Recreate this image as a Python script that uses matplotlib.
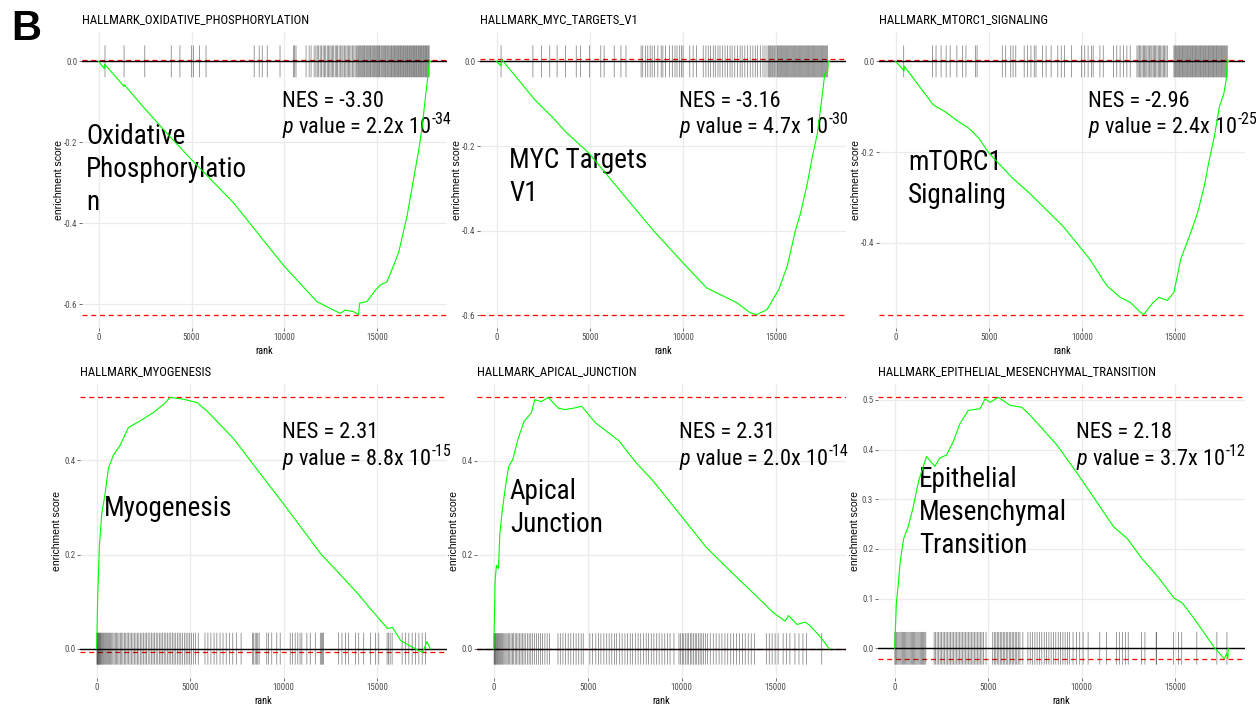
import matplotlib
matplotlib.use("Agg")
import matplotlib.pyplot as plt
from matplotlib import font_manager as fm
from matplotlib.ticker import MultipleLocator, FuncFormatter, FixedLocator
from matplotlib.transforms import offset_copy
import numpy as np

# ---------------------------------------------------------------- data
N_GENES = 17850

titles = ["HALLMARK_OXIDATIVE_PHOSPHORYLATION", "HALLMARK_MYC_TARGETS_V1",
          "HALLMARK_MTORC1_SIGNALING", "HALLMARK_MYOGENESIS",
          "HALLMARK_APICAL_JUNCTION", "HALLMARK_EPITHELIAL_MESENCHYMAL_TRANSITION"]
names = [["Oxidative", "Phosphorylatio", "n"], ["MYC Targets", "V1"],
         ["mTORC1", "Signaling"], ["Myogenesis"], ["Apical", "Junction"],
         ["Epithelial", "Mesenchymal", "Transition"]]
nes_values = ["-3.30", "-3.16", "-2.96", "2.31", "2.31", "2.18"]
p_mantissa = ["2.2", "4.7", "2.4", "8.8", "2.0", "3.7"]
p_exponent = ["-34", "-30", "-25", "-15", "-14", "-12"]

oxphos_rank = [0, 308, 330, 1370, 1388, 2468, 3818, 4988, 7236, 9936, 11740, 12636,
               12996, 13266, 13716, 13986, 14040, 14436, 14886, 15156, 15516, 15876,
               16146, 16596, 16956, 17226, 17406, 17586, 17712, 17800, 17850]
oxphos_es = [0.0, -0.018, -0.007, -0.062, -0.058, -0.116, -0.185, -0.242, -0.348, -0.503,
             -0.593, -0.614, -0.622, -0.614, -0.618, -0.625, -0.597, -0.593, -0.565, -0.552,
             -0.544, -0.503, -0.471, -0.381, -0.287, -0.218, -0.161, -0.087, -0.038, 0.003, 0.0]
oxphos_hits = [345, 1370, 2485, 3908, 4376, 4988, 5098, 5436, 5780, 8370, 8640, 8802, 9072,
               9760, 10480, 10550, 10620, 11160, 11325, 11430, 11595, 11690, 11760, 11840,
               11920, 11990, 12080, 12150, 12220, 12300, 12370, 12440, 12510, 12590, 12650,
               12730, 12800, 12860, 12940, 13010, 13090, 13150, 13230, 13300, 13370, 13440,
               13510, 13580, 13660, 13730, 13800, 13880, 13940, 13990, 14040, 14090, 14140,
               14200, 14250, 14300, 14340, 14400, 14450, 14500, 14550, 14600, 14640, 14700,
               14750, 14800, 14840, 14900, 14950, 15000, 15050, 15100, 15140, 15200, 15250,
               15300, 15350, 15400, 15440, 15500, 15550, 15600, 15640, 15700, 15750, 15790,
               15840, 15890, 15930, 15980, 16030, 16070, 16120, 16160, 16210, 16250, 16300,
               16340, 16390, 16430, 16480, 16520, 16570, 16610, 16650, 16700, 16740, 16790,
               16830, 16870, 16920, 16960, 17000, 17050, 17090, 17130, 17180, 17220, 17260,
               17310, 17350, 17390, 17440, 17480, 17520, 17570, 17610, 17650, 17700, 17740, 17780]

myc_rank = [0, 236, 260, 2074, 2974, 3697, 4956, 6578, 8378, 10000, 11264, 12886, 13605,
            13966, 14507, 15134, 15588, 16037, 16307, 16668, 16938, 17209, 17479, 17604,
            17760, 17790, 17850]
myc_es = [0.0, -0.011, 0.005, -0.092, -0.131, -0.166, -0.217, -0.303, -0.398, -0.476, -0.535,
          -0.570, -0.594, -0.598, -0.586, -0.539, -0.484, -0.398, -0.358, -0.288, -0.225,
          -0.170, -0.076, -0.029, -0.024, 0.0, 0.0]
myc_hits = [237, 1946, 2398, 2850, 3243, 3697, 4270, 4508, 4973, 5588, 5767, 6307, 6669, 6940,
            7749, 7839, 7983, 8109, 8235, 8343, 8469, 8649, 8829, 8919, 9064, 9280, 9424, 9568,
            9676, 9820, 9910, 10000, 10361, 10541, 10721, 11082, 11226, 11352, 11478, 11622,
            11730, 11875, 11983, 12127, 12253, 12379, 12523, 12631, 12775, 12919, 13063, 13171,
            13315, 13459, 13604, 13748, 13874, 14000, 14144, 14288, 14396, 14504, 14590, 14640,
            14700, 14760, 14810, 14870, 14920, 14980, 15048, 15090, 15140, 15190, 15240, 15290,
            15340, 15390, 15440, 15490, 15540, 15590, 15640, 15690, 15740, 15790, 15840, 15890,
            15940, 15990, 16040, 16090, 16140, 16190, 16240, 16290, 16340, 16390, 16440, 16490,
            16540, 16590, 16640, 16690, 16740, 16790, 16840, 16890, 16940, 16990, 17040, 17090,
            17140, 17190, 17240, 17290, 17340, 17390, 17440, 17490, 17540, 17590, 17640, 17690,
            17750]

mtorc1_rank = [0, 450, 470, 2021, 2654, 3375, 3917, 4458, 5000, 6264, 7167, 8971, 10417,
               11322, 12042, 12584, 13126, 13307, 13760, 14120, 14572, 14930, 15293, 15834,
               16197, 16557, 16826, 17097, 17368, 17606, 17730, 17800, 17850]
mtorc1_es = [0.0, -0.021, -0.011, -0.096, -0.111, -0.133, -0.147, -0.169, -0.202, -0.257,
             -0.290, -0.363, -0.436, -0.494, -0.520, -0.531, -0.553, -0.558, -0.534, -0.520,
             -0.527, -0.509, -0.436, -0.377, -0.334, -0.275, -0.217, -0.166, -0.100, -0.071,
             -0.042, 0.004, 0.0]
mtorc1_hits = [433, 1983, 2167, 2438, 2709, 2925, 3286, 3592, 3772, 4279, 4369, 5720, 5905,
               6176, 6300, 6446, 6896, 7076, 7259, 7437, 7530, 7888, 8071, 8341, 8700, 8884,
               9063, 9426, 9967, 10146, 10325, 10508, 10596, 10959, 11137, 11679, 11863, 12042,
               12221, 12405, 12584, 12947, 13010, 13080, 13150, 13220, 13290, 13350, 13420,
               13480, 13550, 13620, 13690, 13750, 13820, 13880, 13950, 14020, 14090, 14150,
               14220, 14290, 14360, 14430, 14500, 14572, 14930, 14980, 15030, 15080, 15120,
               15170, 15220, 15260, 15310, 15360, 15400, 15450, 15500, 15540, 15590, 15640,
               15680, 15730, 15780, 15820, 15870, 15920, 15960, 16010, 16060, 16100, 16150,
               16200, 16240, 16290, 16340, 16380, 16430, 16480, 16520, 16570, 16620, 16660,
               16710, 16760, 16800, 16850, 16900, 16940, 16990, 17040, 17080, 17130, 17180,
               17220, 17270, 17320, 17360, 17410, 17460, 17500, 17550, 17600, 17640, 17690,
               17740, 17790]

myo_rank = [0, 54, 143, 268, 445, 625, 893, 1250, 1698, 2323, 3038, 3575, 3933, 4648, 5365,
            5902, 7330, 8402, 10011, 11980, 12876, 13949, 14663, 15558, 15826, 16272, 17077,
            17437, 17668, 17850]
myo_es = [0.0, 0.111, 0.216, 0.286, 0.328, 0.383, 0.411, 0.432, 0.470, 0.484, 0.502, 0.519,
          0.534, 0.530, 0.523, 0.505, 0.446, 0.390, 0.307, 0.202, 0.164, 0.118, 0.084, 0.043,
          0.045, 0.017, -0.001, -0.008, 0.015, 0.0]
myo_hits = [10, 35, 60, 85, 115, 140, 175, 205, 240, 280, 325, 365, 410, 465, 515, 570, 630,
            685, 745, 805, 865, 930, 995, 1060, 1130, 1195, 1265, 1340, 1405, 1480, 1555, 1630,
            1705, 1785, 1860, 1940, 2015, 2100, 2175, 2255, 2340, 2420, 2505, 2590, 2670, 2755,
            2845, 2925, 3015, 3100, 3185, 3270, 3355, 3440, 3525, 3615, 3700, 3790, 3875, 3965,
            4050, 4140, 4230, 4320, 4410, 4500, 4600, 4690, 4785, 4880, 4975, 5075, 5180, 5290,
            5435, 5794, 5950, 6110, 6280, 6430, 6600, 6760, 6930, 7100, 7280, 7490, 7726, 8332,
            8400, 8480, 8560, 8620, 8691, 9100, 9200, 9367, 9636, 9818, 10354, 10480, 10620,
            10760, 10880, 10977, 11245, 11427, 11696, 11964, 12020, 12080, 12141, 12946, 13123,
            13305, 13482, 13842, 14019, 14287, 14647, 14915, 15092, 15537, 15620, 15700, 15806,
            16342, 16524, 16701, 16878, 17061, 17238, 17415, 17598]

apical_rank = [0, 72, 143, 250, 322, 429, 608, 787, 1019, 1288, 1610, 2002, 2182, 2540, 2897,
               3434, 3793, 4238, 4684, 5402, 6653, 7549, 8440, 10049, 11304, 12195, 13090,
               13987, 14877, 15505, 15683, 16132, 16577, 16846, 17474, 17850]
apical_es = [0.0, 0.146, 0.178, 0.171, 0.244, 0.286, 0.342, 0.387, 0.404, 0.446, 0.484, 0.502,
             0.530, 0.526, 0.535, 0.512, 0.509, 0.512, 0.516, 0.481, 0.443, 0.397, 0.359, 0.279,
             0.216, 0.181, 0.146, 0.112, 0.077, 0.059, 0.071, 0.052, 0.057, 0.049, 0.021, 0.0]
apical_hits = [16, 45, 80, 110, 150, 190, 230, 275, 320, 370, 420, 470, 530, 590, 650, 710, 780,
               850, 920, 990, 1060, 1140, 1210, 1290, 1370, 1450, 1530, 1610, 1700, 1790, 1880,
               1970, 2070, 2170, 2270, 2380, 2490, 2600, 2720, 2840, 2968, 3416, 3540, 3680,
               3820, 3960, 4100, 4240, 4380, 4520, 4650, 4759, 5114, 5260, 5430, 5570, 5700,
               5860, 6010, 6140, 6280, 6420, 6540, 6700, 6830, 6980, 7110, 7260, 7390, 7530,
               7680, 7820, 7960, 8110, 8240, 8380, 8520, 8670, 8800, 8950, 9100, 9240, 9380,
               9587, 9855, 9940, 10030, 10110, 10200, 10290, 10370, 10460, 10540, 10630, 10720,
               10800, 10890, 10980, 11070, 11160, 11260, 11374, 11520, 11680, 11830, 11990,
               12140, 12300, 12450, 12610, 12760, 12920, 13070, 13230, 13380, 13540, 13700,
               13880, 14502, 14660, 14810, 14970, 15129, 15397, 15580, 15757, 16025, 16240,
               16450, 16648, 17452]

emt_rank = [0, 90, 197, 304, 483, 716, 985, 1199, 1307, 1701, 2148, 2417, 2776, 3133, 3491,
            3938, 4565, 4833, 5102, 5549, 6176, 6804, 7250, 8683, 9935, 11723, 12442, 13157,
            14140, 14945, 15396, 16110, 17093, 17630, 17759, 17820, 17850]
emt_es = [0.0, 0.091, 0.131, 0.177, 0.221, 0.244, 0.283, 0.323, 0.340, 0.386, 0.366, 0.383,
          0.389, 0.416, 0.452, 0.479, 0.482, 0.502, 0.495, 0.505, 0.489, 0.485, 0.469, 0.409,
          0.343, 0.244, 0.221, 0.184, 0.141, 0.101, 0.091, 0.055, 0.002, -0.021, -0.011,
          -0.021, 0.0]
emt_hits = [10, 60, 110, 170, 230, 290, 350, 410, 470, 530, 590, 650, 710, 770, 830, 890, 950,
            1010, 1070, 1130, 1190, 1250, 1310, 1370, 1430, 1490, 1550, 1610, 1665, 2110, 2190,
            2270, 2350, 2430, 2510, 2590, 2670, 2750, 2830, 2910, 2990, 3070, 3150, 3230, 3310,
            3390, 3470, 3550, 3630, 3710, 3790, 3870, 3950, 4030, 4110, 4190, 4270, 4350, 4430,
            4510, 4590, 4670, 4750, 4887, 5246, 5330, 5410, 5490, 5570, 5650, 5730, 5810, 5890,
            5970, 6050, 6130, 6210, 6290, 6370, 6450, 6530, 6610, 6700, 6857, 7126, 7250, 7370,
            7500, 7620, 7750, 7870, 8000, 8120, 8250, 8370, 8500, 8620, 8750, 8870, 9000, 9120,
            9250, 9360, 9543, 9720, 9900, 10080, 10348, 10971, 11331, 11868, 12020, 12180,
            12340, 12495, 13210, 13388, 13990, 14016, 14912, 15181, 15358, 16164, 17238, 17775]

ranks_all = [oxphos_rank, myc_rank, mtorc1_rank, myo_rank, apical_rank, emt_rank]
es_all = [oxphos_es, myc_es, mtorc1_es, myo_es, apical_es, emt_es]
hits_all = [oxphos_hits, myc_hits, mtorc1_hits, myo_hits, apical_hits, emt_hits]

# ---------------------------------------------------------------- layout / style
W, H = 1256, 708
AXES_PX = [(82, 32, 365, 296), (480, 32, 366, 296), (879, 32, 366, 296),
           (80, 384, 367, 294), (477, 384, 369, 294), (878, 384, 367, 294)]
Y_STEP = [0.2, 0.2, 0.2, 0.2, 0.2, 0.1]
NES_POS = [(0.547, 0.748), (0.545, 0.748), (0.572, 0.748),
           (0.550, 0.815), (0.548, 0.815), (0.540, 0.815)]
NAME_POS = [(0.011, 0.622), (0.080, 0.540), (0.080, 0.534),
            (0.065, 0.552), (0.089, 0.609), (0.112, 0.649)]

# pick a condensed face if one is installed, otherwise shrink the regular one
avail = {f.name for f in fm.fontManager.ttflist}
FACE, WS = "Liberation Sans", 0.85
for cand in ["Liberation Sans Narrow", "Roboto Condensed", "Open Sans Condensed",
             "Noto Sans Condensed"]:
    if cand in avail:
        FACE, WS = cand, 1.0
        break
FAM = [FACE, "Liberation Sans", "DejaVu Sans"]
REGULAR = ["Liberation Sans", "DejaVu Sans"]

plt.rcParams["font.family"] = FAM
plt.rcParams["mathtext.fontset"] = "custom"
plt.rcParams["mathtext.rm"] = FACE
plt.rcParams["mathtext.it"] = FACE + ":italic"
plt.rcParams["mathtext.bf"] = FACE + ":bold"

fig = plt.figure(figsize=(W / 100, H / 100), dpi=100)
fig.patch.set_facecolor("white")

fmt_y = FuncFormatter(lambda v, p: "%.1f" % v)
fmt_x = FuncFormatter(lambda v, p: "%d" % int(round(v)))

BIG = 16.0 * WS
NAME = 19.5 * WS
ptexts = []

for i in range(6):
    l, t, w, h = AXES_PX[i]
    ax = fig.add_axes([l / W, (H - t - h) / H, w / W, h / H])
    r = np.asarray(ranks_all[i], dtype=float)
    es = np.asarray(es_all[i], dtype=float)
    hits = np.asarray(hits_all[i], dtype=float)

    top = max(es.max(), 0.0)
    bot = min(es.min(), 0.0)
    diff = (top - bot) / 8.0
    ymin = min(bot, -diff / 2)
    ymax = max(top, diff / 2)
    pad = 0.05 * (ymax - ymin)
    ax.set_ylim(ymin - pad, ymax + pad)
    ax.set_xlim(-0.05 * N_GENES, 1.05 * N_GENES)

    for s in ax.spines.values():
        s.set_visible(False)
    ax.grid(True, color="#EBEBEB", lw=0.9)
    ax.set_axisbelow(True)

    ax.xaxis.set_major_locator(FixedLocator([0, 5000, 10000, 15000]))
    ax.yaxis.set_major_locator(MultipleLocator(Y_STEP[i]))
    ax.xaxis.set_major_formatter(fmt_x)
    ax.yaxis.set_major_formatter(fmt_y)
    ax.tick_params(axis="both", labelsize=6 * WS + 0.4, labelcolor="#4D4D4D",
                   color="#333333", length=2, width=0.5, pad=1.5)

    ax.axhline(top, color="#FF0000", lw=0.9, ls=(0, (4, 3)), zorder=2)
    ax.axhline(bot, color="#FF0000", lw=0.9, ls=(0, (4, 3)), zorder=2)
    ax.axhline(0, color="black", lw=1.0, zorder=3)
    ax.vlines(hits, -diff / 2, diff / 2, colors="black", lw=0.5, alpha=0.55,
              zorder=3, snap=False)
    ax.plot(r, es, color="#00FF00", lw=0.8, zorder=4)

    ax.set_title(titles[i], loc="left", fontsize=9.2 * WS, pad=6.5, color="black")
    ax.set_xlabel("rank", fontsize=7.5 * WS)
    ax.xaxis.set_label_coords(0.5, -0.062)
    ax.set_ylabel("enrichment score", fontsize=7.5, family=REGULAR)
    ax.yaxis.set_label_coords(-0.05, 0.5)

    # NES / p value
    nx, ny = NES_POS[i]
    ax.text(nx, ny, "NES = " + nes_values[i], transform=ax.transAxes,
            fontsize=BIG, va="baseline", ha="left")
    tr = offset_copy(ax.transAxes, fig=fig, y=-26.7, units="dots")
    pt = ax.text(nx, ny, r"$\mathit{p}$ value = " + p_mantissa[i] + "x 10",
                 transform=tr, fontsize=BIG, va="baseline", ha="left")
    ptexts.append((pt, tr, nx, ny, p_exponent[i]))

    # pathway name
    px_, py_ = NAME_POS[i]
    for k, line in enumerate(names[i]):
        trk = offset_copy(ax.transAxes, fig=fig, y=-33.0 * k, units="dots")
        ax.text(px_, py_, line, transform=trk, fontsize=NAME, va="baseline", ha="left")

fig.text(11 / W, 1 - 40 / H, "B", fontsize=30 * WS if WS < 1 else 30, fontweight="bold",
         va="baseline", ha="left", family=REGULAR)

# superscript exponents with a plain hyphen, placed right after "10"
fig.canvas.draw()
renderer = fig.canvas.get_renderer()
for pt, tr, nx, ny, ex in ptexts:
    bb = pt.get_window_extent(renderer)
    bx, by = tr.transform((nx, ny))
    fig.text((bb.x1 + 0.5) / W, (by + 0.42 * BIG * 100 / 72) / H, ex,
             fontsize=BIG * 0.72, va="baseline", ha="left")

fig.savefig("out.png", dpi=100, facecolor="white")
